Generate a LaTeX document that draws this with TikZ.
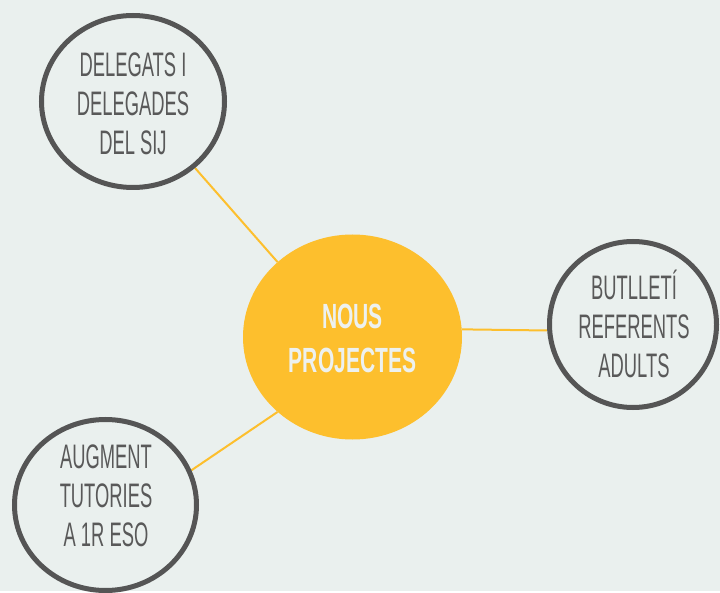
\documentclass[tikz,border=0pt]{standalone}
\usepackage{fontspec}
\usetikzlibrary{shapes.geometric,calc,backgrounds}
\newfontfamily\narrowfont[FakeStretch=0.54]{Liberation Sans}
\newfontfamily\narrowbold[FakeStretch=0.6]{Liberation Sans Bold}
\definecolor{bgcol}{HTML}{EAF0EE}
\definecolor{sun}{HTML}{FDBF2D}
\definecolor{ringcol}{HTML}{555555}
\definecolor{txtcol}{HTML}{595959}
\definecolor{lighttxt}{HTML}{EDF1EF}
\begin{document}
\begin{tikzpicture}[x=1pt,y=-1pt,
  ring/.style={ellipse, draw=ringcol, line width=5pt, fill=bgcol, inner sep=0pt},
  hub/.style={ellipse, fill=sun, inner sep=0pt, minimum width=219pt, minimum height=205pt},
  ringtxt/.style={align=center, text=txtcol, inner sep=0pt, font=\narrowfont\fontsize{34}{39}\selectfont},
  hubtxt/.style={align=center, text=lighttxt, inner sep=0pt, font=\narrowbold\fontsize{35}{44}\selectfont},
  link/.style={draw=sun, line width=2pt}]
\node[hub] (c) at (352.5,337) {};
\node[ring, minimum width=183pt, minimum height=172pt] (tl) at (133,101.5) {};
\node[ring, minimum width=167pt, minimum height=166pt] (r) at (633,324.5) {};
\node[ring, minimum width=182pt, minimum height=171pt] (bl) at (105.5,505) {};
\begin{scope}[on background layer]
\fill[bgcol] (0,0) rectangle (720,591);
\draw[link] (c.135) -- (tl.-47);
\draw[link] (c.4) -- (r.184);
\draw[link] (c.225) -- (bl.22);
\end{scope}
\node[hubtxt] (ct) at (352.5,338.5) {NOUS\\PROJECTES};
\node[ringtxt] (tlt) at (133,103.5) {DELEGATS I\\DELEGADES\\DEL SIJ};
\node[ringtxt] (rt) at (634,324) {BUTLLETÍ\\REFERENTS\\ADULTS};
\node[ringtxt] (blt) at (106,496) {AUGMENT\\TUTORIES\\A 1R ESO};
\useasboundingbox (0,0) rectangle (720,591);
\end{tikzpicture}
\end{document}
